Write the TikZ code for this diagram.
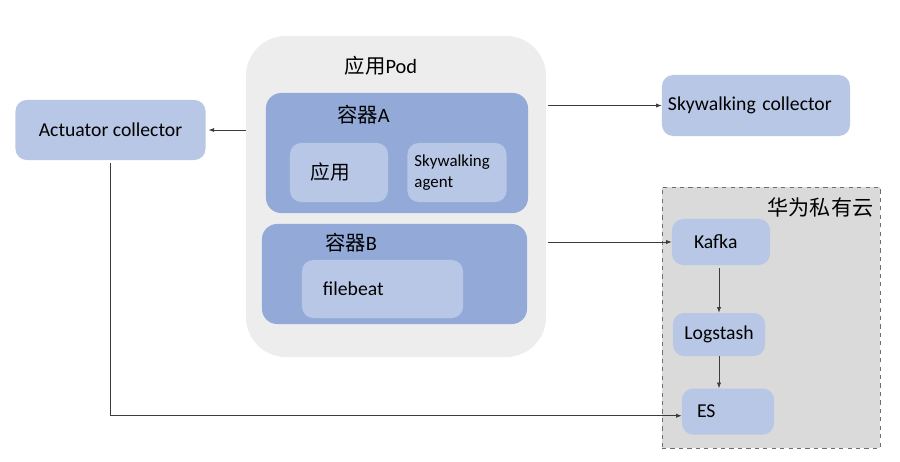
\documentclass[tikz,border=0pt]{standalone}
\usepackage{fontspec}
\setmainfont{Carlito}
\newfontfamily\cjk{Noto Sans CJK SC}
\usepackage{tikz}
\usetikzlibrary{arrows.meta}
\definecolor{podgray}{HTML}{EDEDED}
\definecolor{ctrblue}{HTML}{93AAD9}
\definecolor{itemblue}{HTML}{B7C7E5}
\definecolor{cloudgray}{HTML}{DADADA}
\definecolor{edgegray}{HTML}{6E6E6E}
\definecolor{linegray}{HTML}{3C3C3C}
\tikzset{
	pod/.style={fill=podgray, rounded corners=1cm, inner sep=0pt},
	ctr/.style={fill=ctrblue, rounded corners=0.38cm, inner sep=0pt},
	item/.style={fill=itemblue, rounded corners=0.28cm, inner sep=0pt, font=\fontsize{14}{16}\selectfont},
	cloud/.style={fill=cloudgray, draw=edgegray, dashed, line width=0.6pt, inner sep=0pt},
	title/.style={font=\fontsize{14.5}{16}\selectfont, inner sep=0pt},
	padl/.style 2 args={align=left, text width=#1, inner xsep=#2},
	flow/.style={draw=linegray, line width=0.5pt, -{Latex[length=4pt,width=3pt]}},
}

\begin{document}
\begin{tikzpicture}[x=0.025cm, y=-0.025cm]
			%%%%% START %%%%%
			\useasboundingbox (0, 0) rectangle (900, 461);
			
			% application pod
			\node[pod, minimum width=7.5cm, minimum height=8.025cm] (pod) at (396, 196.5) {};
			\node[title] (podname) at (381, 66) {{\cjk 应用}Pod};
			
			\node[ctr, minimum width=6.55cm, minimum height=3cm] (ctra) at (397, 153) {};
			\node[title] (ctraname) at (363.5, 115) {{\cjk 容器}A};
			\node[item, minimum height=1.475cm, padl={1.4cm}{0.525cm}] (app) at (339, 172.5) {\cjk 应用};
			\node[item, minimum height=1.475cm, padl={2.125cm}{0.175cm}, font=\fontsize{12}{14.5}\selectfont] (agent) at (457, 172.5) {Skywalking\\agent};
			
			\node[ctr, minimum width=6.625cm, minimum height=2.5cm] (ctrb) at (394.5, 274) {};
			\node[title] (ctrbname) at (351, 243) {{\cjk 容器}B};
			\node[item, minimum height=1.45cm, padl={2.975cm}{0.525cm}] (filebeat) at (382.5, 289) {filebeat};
			
			% collectors
			\node[item, minimum width=4.75cm, minimum height=1.5cm] (actuator) at (110.5, 130) {Actuator collector};
			\node[item, minimum height=1.525cm, padl={4.4cm}{0.15cm}] (sky) at (756, 105.5) {Skywalking collector};
			
			% private cloud
			\node[cloud, minimum width=5.45cm, minimum height=6.525cm] (cloud) at (771, 317.5) {};
			\node[title, font=\cjk\fontsize{15}{16}\selectfont] (cloudname) at (820.5, 207) {华为私有云};
			\node[item, minimum height=1.15cm, padl={1.35cm}{0.55cm}] (kafka) at (721, 242) {Kafka};
			\node[item, minimum width=2.3cm, minimum height=1.075cm] (logstash) at (719, 334.5) {Logstash};
			\node[item, minimum height=1.15cm, padl={1.55cm}{0.375cm}] (es) at (728, 411.5) {ES};
			\coordinate (esin) at ([yshift=-3pt]es.west);
			
			% connectors
			\draw[flow] (pod.west |- actuator.east) -- ([xshift=2pt]actuator.east);
			\draw[flow] ([xshift=1pt]pod.east |- sky.west) -- (sky.west);
			\draw[flow] ([xshift=1pt]pod.east |- kafka.west) -- (kafka.west);
			\draw[flow] ([yshift=-2pt]logstash.north |- kafka.south) -- (logstash.north);
			\draw[flow] (logstash.south) -- (logstash.south |- es.north);
			\draw[flow] ([yshift=-2pt]actuator.south) -- (actuator.south |- esin) -- (esin);
			%%%%% END %%%%%
		\end{tikzpicture}
\end{document}
